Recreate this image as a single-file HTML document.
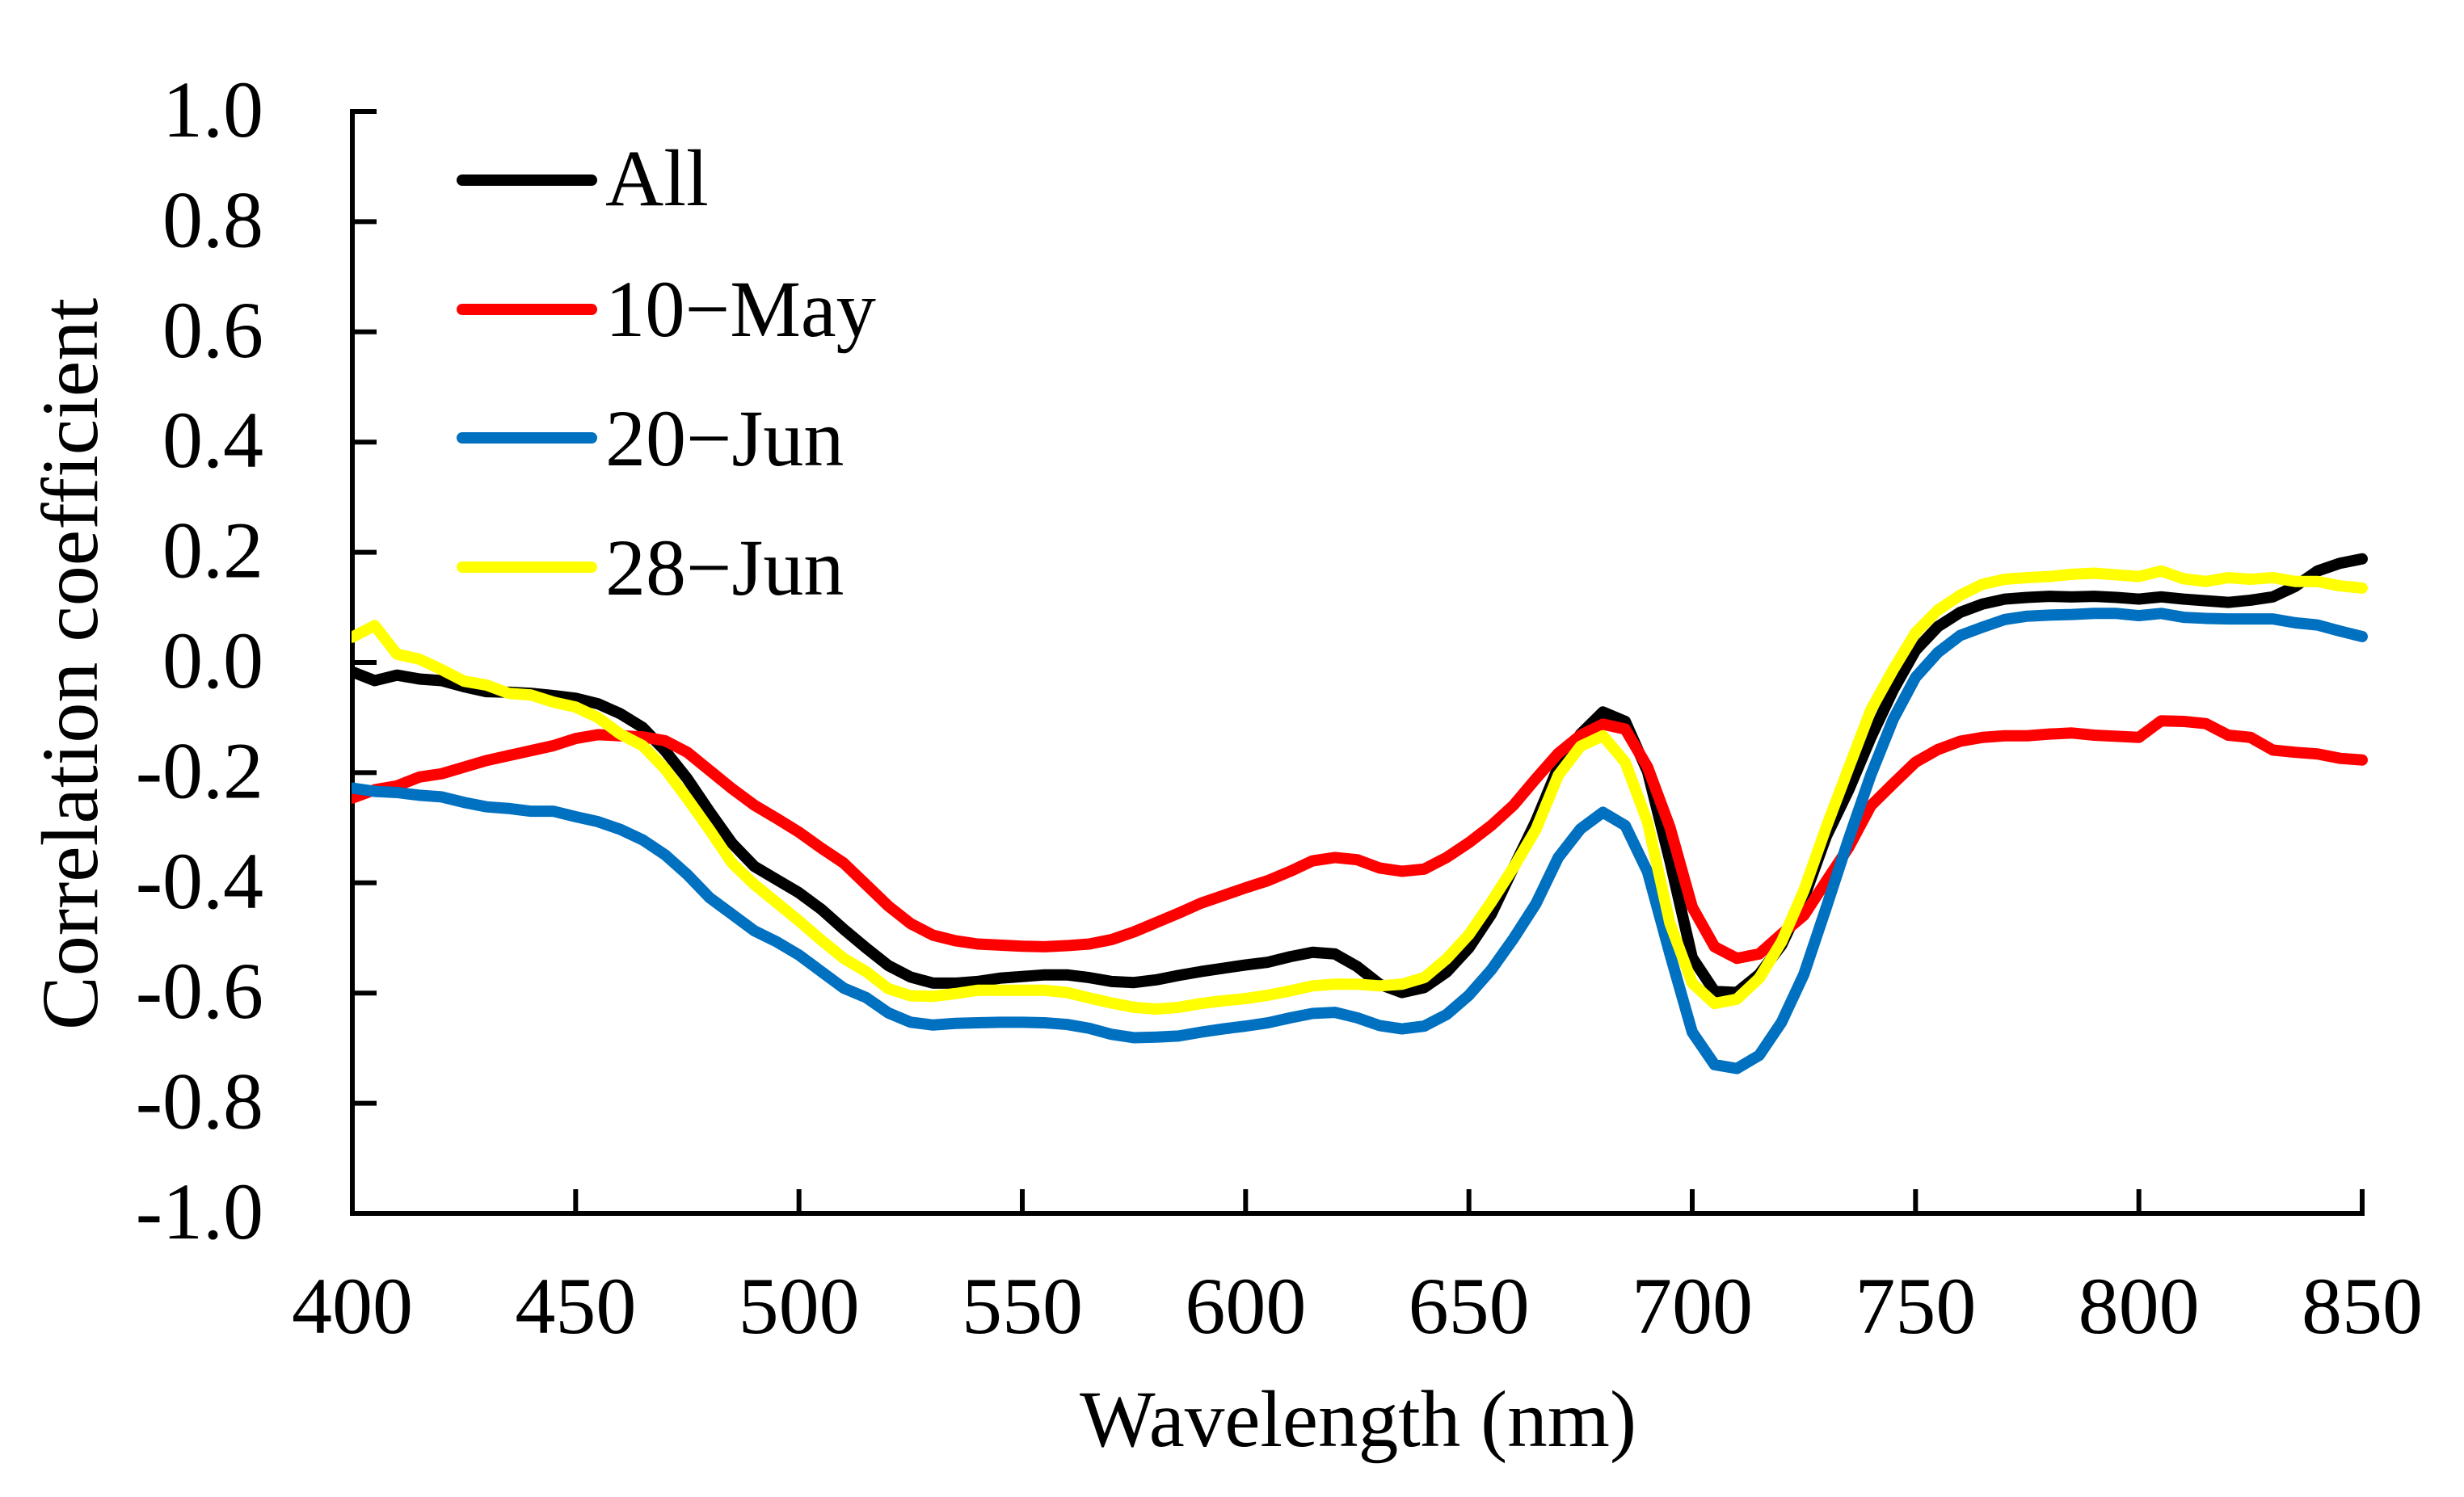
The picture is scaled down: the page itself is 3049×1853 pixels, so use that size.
<!DOCTYPE html>
<html lang="en">
<head>
<meta charset="utf-8">
<title>Correlation coefficient by wavelength</title>
<style>
html,body{margin:0;padding:0;background:#fff;}
svg{display:block;}
text{font-family:"Liberation Serif","Times New Roman",serif;font-size:100px;fill:#000;font-variant-ligatures:none;}
</style>
</head>
<body>
<svg id="chart" xmlns="http://www.w3.org/2000/svg" width="3049" height="1853" viewBox="0 0 3049 1853">
  <rect x="0" y="0" width="3049" height="1853" fill="#fff"/>
  <defs><clipPath id="plot-clip"><rect x="435" y="100" width="2600" height="1420"/></clipPath></defs>
  <g id="axes"></g>
  <g id="series" clip-path="url(#plot-clip)"></g>
  <g id="legend"></g>
  <text x="1336" y="1790" textLength="689" lengthAdjust="spacingAndGlyphs">Wavelength (nm)</text>
  <text transform="translate(120,1275) rotate(-90)">Correlation coefficient</text>
</svg>
<script>
const wavelengths = [400,405,410,415,420,425,430,435,440,445,450,455,460,465,470,475,480,485,490,495,500,505,510,515,520,525,530,535,540,545,550,555,560,565,570,575,580,585,590,595,600,605,610,615,620,625,630,635,640,645,650,655,660,665,670,675,680,685,690,695,700,705,710,715,720,725,730,735,740,745,750,755,760,765,770,775,780,785,790,795,800,805,810,815,820,825,830,835,840,845,850];
const allValues = [-.017,-.033,-.023,-.03,-.033,-.044,-.053,-.054,-.056,-.06,-.065,-.075,-.093,-.118,-.16,-.211,-.271,-.328,-.37,-.394,-.418,-.448,-.484,-.518,-.55,-.571,-.582,-.582,-.579,-.573,-.57,-.567,-.567,-.572,-.579,-.581,-.576,-.568,-.561,-.555,-.549,-.544,-.534,-.526,-.529,-.552,-.584,-.599,-.59,-.562,-.518,-.457,-.372,-.288,-.19,-.13,-.09,-.107,-.198,-.36,-.536,-.597,-.599,-.566,-.513,-.428,-.316,-.232,-.136,-.05,.022,.065,.091,.106,.115,.118,.12,.119,.12,.118,.115,.119,.115,.112,.109,.113,.119,.138,.166,.18,.188];
const may10Values = [-.246,-.231,-.224,-.208,-.202,-.19,-.178,-.169,-.16,-.151,-.138,-.131,-.133,-.135,-.142,-.163,-.196,-.229,-.259,-.283,-.308,-.337,-.364,-.403,-.442,-.474,-.495,-.505,-.511,-.513,-.515,-.516,-.514,-.511,-.503,-.489,-.472,-.455,-.437,-.423,-.409,-.396,-.379,-.36,-.354,-.358,-.373,-.379,-.375,-.354,-.327,-.296,-.259,-.211,-.165,-.132,-.112,-.121,-.19,-.299,-.444,-.516,-.537,-.529,-.493,-.459,-.397,-.336,-.26,-.22,-.181,-.158,-.143,-.136,-.133,-.133,-.13,-.128,-.132,-.134,-.136,-.106,-.107,-.111,-.132,-.136,-.159,-.163,-.166,-.174,-.177];
const jun20Values = [-.228,-.234,-.236,-.241,-.244,-.254,-.262,-.265,-.27,-.27,-.28,-.289,-.303,-.322,-.349,-.385,-.427,-.457,-.487,-.507,-.531,-.561,-.591,-.608,-.636,-.653,-.658,-.655,-.654,-.653,-.653,-.654,-.657,-.664,-.675,-.681,-.68,-.678,-.671,-.665,-.66,-.654,-.645,-.637,-.635,-.645,-.659,-.665,-.66,-.639,-.604,-.558,-.501,-.438,-.354,-.302,-.272,-.296,-.38,-.529,-.671,-.73,-.737,-.713,-.653,-.566,-.445,-.321,-.204,-.103,-.027,.018,.049,.064,.078,.084,.086,.087,.089,.089,.085,.089,.082,.08,.079,.079,.079,.072,.068,.057,.047];
const jun28Values = [.046,.067,.015,.006,-.013,-.034,-.041,-.056,-.059,-.072,-.081,-.10,-.13,-.151,-.193,-.247,-.304,-.364,-.403,-.436,-.469,-.504,-.537,-.561,-.592,-.605,-.606,-.601,-.595,-.595,-.595,-.595,-.599,-.609,-.618,-.626,-.629,-.626,-.619,-.614,-.61,-.604,-.596,-.587,-.584,-.584,-.587,-.584,-.572,-.538,-.494,-.435,-.372,-.303,-.205,-.152,-.133,-.181,-.29,-.473,-.582,-.619,-.611,-.573,-.507,-.414,-.299,-.192,-.086,-.013,.054,.095,.122,.142,.151,.154,.156,.16,.162,.159,.156,.166,.152,.147,.154,.151,.154,.147,.147,.139,.135];
const yTickValues = [1,0.8,0.6,0.4,0.2,0,-0.2,-0.4,-0.6,-0.8,-1];
const yTickLabels = ["1.0","0.8","0.6","0.4","0.2","0.0","-0.2","-0.4","-0.6","-0.8","-1.0"];
const xTickValues = [400,450,500,550,600,650,700,750,800,850];
const xTickLabels = ["400","450","500","550","600","650","700","750","800","850"];
const seriesNames = ["All","10\u2212May","20\u2212Jun","28\u2212Jun"];
const seriesColors = ["#000000","#FF0000","#0070C0","#FFFF00"];
const seriesSlugs = ["all","10-may","20-jun","28-jun"];
const seriesValues = [allValues, may10Values, jun20Values, jun28Values];

const SVG_NS = "http://www.w3.org/2000/svg";
function xScale(nm){ return 436 + (nm - 400) * (2923 - 436) / 450; }
function yScale(v){ return 820 - v * 682; }

const axes = document.getElementById("axes");
const series = document.getElementById("series");
const legend = document.getElementById("legend");

function makeLine(x1, y1, x2, y2, stroke, width){
  const l = document.createElementNS(SVG_NS, "line");
  l.setAttribute("x1", x1);
  l.setAttribute("y1", y1);
  l.setAttribute("x2", x2);
  l.setAttribute("y2", y2);
  l.setAttribute("stroke", stroke);
  l.setAttribute("stroke-width", width);
  return l;
}

const yAxis = makeLine(xScale(400), yScale(1) - 3, xScale(400), yScale(-1) + 3, "#000", 6);


axes.appendChild(yAxis);

const xAxis = makeLine(xScale(400) - 3, yScale(-1), xScale(850) + 3, yScale(-1), "#000", 6);


axes.appendChild(xAxis);

yTickValues.forEach(function(v, i){
  const y = yScale(v);
  const t = makeLine(xScale(400), y, xScale(400) + 30, y, "#000", 6);
  
  
  axes.appendChild(t);
  const lab = document.createElementNS(SVG_NS, "text");
  
  
  lab.setAttribute("x", 326);
  lab.setAttribute("y", y + 31);
  lab.setAttribute("text-anchor", "end");
  lab.textContent = yTickLabels[i];
  axes.appendChild(lab);
});

xTickValues.forEach(function(nm, i){
  const x = xScale(nm);
  if (i > 0) {
    const t = makeLine(x, yScale(-1), x, yScale(-1) - 30, "#000", 6);
    
    
    axes.appendChild(t);
  }
  const lab = document.createElementNS(SVG_NS, "text");
  
  
  lab.setAttribute("x", x);
  lab.setAttribute("y", 1650);
  lab.setAttribute("text-anchor", "middle");
  lab.textContent = xTickLabels[i];
  axes.appendChild(lab);
});

seriesValues.forEach(function(vals, s){
  let d = "";
  vals.forEach(function(v, i){
    d += (i === 0 ? "M" : "L") + xScale(wavelengths[i]).toFixed(2) + " " + yScale(v).toFixed(2);
  });
  const p = document.createElementNS(SVG_NS, "path");
  
  
  p.setAttribute("d", d);
  p.setAttribute("fill", "none");
  p.setAttribute("stroke", seriesColors[s]);
  p.setAttribute("stroke-width", 14);
  p.setAttribute("stroke-linejoin", "round");
  p.setAttribute("stroke-linecap", "round");
  series.appendChild(p);
});

const legendLineY = [223, 383, 542, 702];
const legendTextY = [254, 416, 576, 736];
const legendTextWidth = [null, 335, null, null];
seriesNames.forEach(function(name, s){
  const l = makeLine(572, legendLineY[s], 732, legendLineY[s], seriesColors[s], 14);
  l.setAttribute("stroke-linecap", "round");
  
  
  legend.appendChild(l);
  const t = document.createElementNS(SVG_NS, "text");
  
  
  t.setAttribute("x", 749);
  t.setAttribute("y", legendTextY[s]);
  if (legendTextWidth[s]) {
    t.setAttribute("textLength", legendTextWidth[s]);
    t.setAttribute("lengthAdjust", "spacingAndGlyphs");
  }
  t.textContent = name;
  legend.appendChild(t);
});
</script>
</body>
</html>
